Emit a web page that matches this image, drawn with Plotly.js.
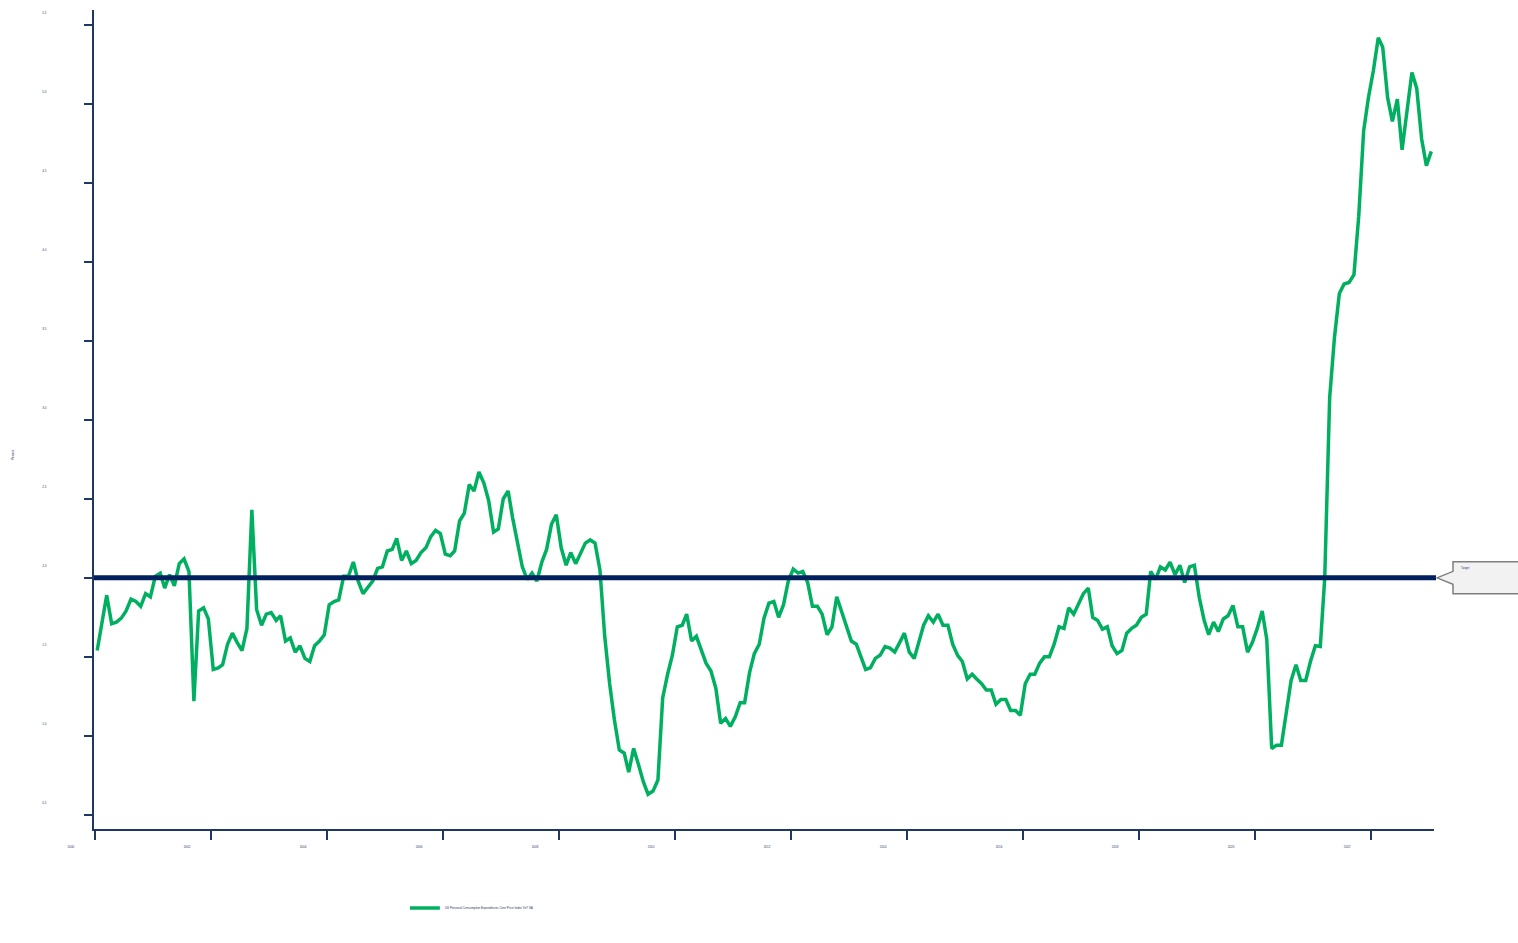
<!DOCTYPE html>
<html>
<head>
<meta charset="utf-8">
<script src="https://cdn.plot.ly/plotly-3.0.1.min.js"></script>
<style>html,body{margin:0;padding:0;background:#fff;}#chart{width:1518px;height:943px;}</style>
</head>
<body>
<div id="chart"></div>
<script>
// ---- data (monthly, Jan 2000 - Jan 2023) ----
const startYear = 2000;
const startMonth = 1;
const seriesName = "US Personal Consumption Expenditures Core Price Index YoY SA";
const coreYoY = [
  1.54, 1.72, 1.89, 1.71, 1.72, 1.745, 1.79, 1.865, 1.85, 1.82,
  1.90, 1.88, 2.01, 2.03, 1.935, 2.02, 1.95, 2.09, 2.12, 2.04,
  1.22, 1.79, 1.81, 1.74, 1.42, 1.43, 1.45, 1.58, 1.65, 1.59,
  1.54, 1.68, 2.43, 1.80, 1.70, 1.77, 1.78, 1.73, 1.76, 1.60,
  1.62, 1.53, 1.57, 1.49, 1.47, 1.57, 1.60, 1.64, 1.83, 1.85,
  1.86, 2.01, 2.01, 2.10, 1.98, 1.90, 1.945, 1.98, 2.06, 2.07,
  2.17, 2.18, 2.25, 2.11, 2.17, 2.09, 2.11, 2.16, 2.19, 2.26,
  2.30, 2.28, 2.15, 2.14, 2.17, 2.36, 2.41, 2.59, 2.55, 2.67,
  2.60, 2.49, 2.29, 2.31, 2.50, 2.55, 2.38, 2.21, 2.07, 1.99,
  2.03, 1.98, 2.10, 2.18, 2.34, 2.40, 2.19, 2.08, 2.16, 2.09,
  2.15, 2.22, 2.24, 2.22, 2.05, 1.63, 1.33, 1.10, 0.91, 0.89,
  0.77, 0.92, 0.82, 0.71, 0.63, 0.65, 0.72, 1.24, 1.39, 1.51,
  1.69, 1.70, 1.77, 1.60, 1.63, 1.54, 1.46, 1.41, 1.30, 1.08,
  1.11, 1.06, 1.12, 1.21, 1.21, 1.40, 1.52, 1.58, 1.745, 1.84,
  1.85, 1.75, 1.83, 1.98, 2.055, 2.03, 2.04, 1.97, 1.82, 1.82,
  1.77, 1.64, 1.69, 1.88, 1.78, 1.69, 1.60, 1.58, 1.50, 1.42,
  1.43, 1.49, 1.51, 1.565, 1.555, 1.53, 1.59, 1.65, 1.53, 1.49,
  1.59, 1.70, 1.76, 1.72, 1.77, 1.70, 1.70, 1.58, 1.51, 1.47,
  1.36, 1.39, 1.36, 1.33, 1.29, 1.29, 1.20, 1.23, 1.23, 1.16,
  1.16, 1.13, 1.33, 1.39, 1.39, 1.46, 1.50, 1.50, 1.58, 1.69,
  1.68, 1.81, 1.77, 1.83, 1.90, 1.935, 1.75, 1.73, 1.675, 1.69,
  1.57, 1.52, 1.54, 1.65, 1.68, 1.70, 1.75, 1.77, 2.04, 1.99,
  2.07, 2.05, 2.10, 2.02, 2.08, 1.97, 2.07, 2.08, 1.875, 1.73,
  1.64, 1.72, 1.66, 1.74, 1.76, 1.825, 1.69, 1.69, 1.53, 1.59,
  1.68, 1.79, 1.61, 0.92, 0.94, 0.94, 1.145, 1.35, 1.45, 1.35,
  1.35, 1.47, 1.57, 1.565, 2.00, 3.14, 3.52, 3.80, 3.86, 3.87,
  3.92, 4.29, 4.83, 5.04, 5.21, 5.42, 5.36, 5.04, 4.89, 5.03,
  4.71, 4.95, 5.20, 5.10, 4.78, 4.61, 4.70
];
const targetValue = 2.0;
const targetLabel = "Target";
const yTitle = "Percent";

// build monthly dates
const dates = coreYoY.map((v, i) => {
  const m0 = (startMonth - 1) + i;
  const y = startYear + Math.floor(m0 / 12);
  const m = (m0 % 12) + 1;
  return y + "-" + String(m).padStart(2, "0") + "-15";
});

const navy = "#1f3763";
const lineNavy = "#002060";
const green = "#00b060";
const font = "Liberation Sans, Arial, sans-serif";

const traces = [{
  type: "scatter",
  mode: "lines",
  x: dates,
  y: coreYoY,
  name: seriesName,
  line: {color: green, width: 3.5},
  hoverinfo: "x+y"
}];

const layout = {
  width: 1518,
  height: 943,
  margin: {l: 94, r: 84, t: 10, b: 114, pad: 0},
  paper_bgcolor: "#ffffff",
  plot_bgcolor: "#ffffff",
  font: {family: font, color: navy, size: 3},
  showlegend: true,
  legend: {
    orientation: "h",
    x: 0.232, y: -0.0965,
    xanchor: "left", yanchor: "middle",
    font: {size: 3, color: navy, family: font},
    itemwidth: 30,
    bgcolor: "rgba(0,0,0,0)"
  },
  xaxis: {
    type: "date",
    range: ["1999-12-26", "2023-02-01"],
    tick0: "2000-01-01",
    dtick: "M24",
    tickformat: "%Y",
    ticks: "outside",
    ticklen: 9,
    tickwidth: 2,
    tickcolor: navy,
    showline: true,
    linecolor: navy,
    linewidth: 2,
    showgrid: false,
    zeroline: false,
    tickfont: {size: 3, color: navy, family: font},
    ticklabelshift: -24,
    ticklabelstandoff: 4
  },
  yaxis: {
    range: [0.41, 5.595],
    tick0: 0.5,
    dtick: 0.5,
    tickformat: ".1f",
    ticks: "outside",
    ticklen: 8,
    tickwidth: 2,
    tickcolor: navy,
    showline: true,
    linecolor: navy,
    linewidth: 2,
    showgrid: false,
    zeroline: false,
    tickfont: {size: 3, color: navy, family: font},
    ticklabelshift: -12,
    ticklabelstandoff: 37
  },
  shapes: [
    {
      type: "line",
      xref: "paper", yref: "y",
      x0: 0, x1: 1.0015,
      y0: targetValue, y1: targetValue,
      line: {color: lineNavy, width: 5},
      layer: "above"
    },
    {
      type: "path",
      xref: "paper", yref: "y",
      xsizemode: "pixel", ysizemode: "pixel",
      xanchor: 1, yanchor: targetValue,
      path: "M3,0 L19,6.5 L19,16 L120,16 L120,-16 L19,-16 L19,-6.5 Z",
      fillcolor: "#f2f2f2",
      line: {color: "#7f7f7f", width: 1.5},
      layer: "above"
    }
  ],
  annotations: [
    {
      xref: "paper", yref: "y",
      x: 1, y: targetValue,
      xanchor: "left", yanchor: "middle",
      xshift: 25, yshift: 10,
      text: targetLabel,
      showarrow: false,
      font: {size: 3, color: navy, family: font}
    },
    {
      xref: "paper", yref: "paper",
      x: -0.0604, y: 0.4567,
      xanchor: "center", yanchor: "middle",
      textangle: -90,
      text: yTitle,
      showarrow: false,
      font: {size: 3, color: navy, family: font}
    }
  ]
};

Plotly.newPlot("chart", traces, layout, {displayModeBar: false, staticPlot: true});
</script>
</body>
</html>
